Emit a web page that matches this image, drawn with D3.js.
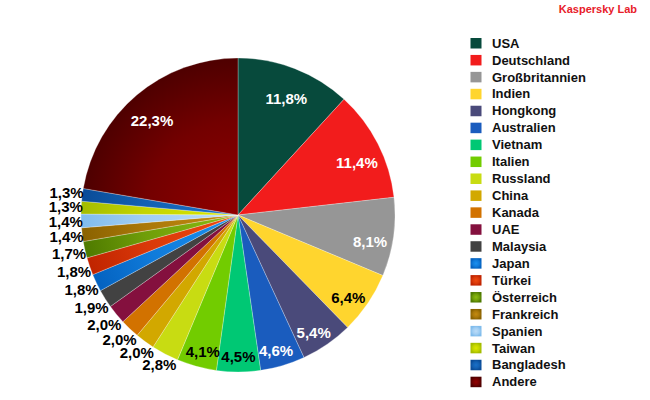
<!DOCTYPE html>
<html>
<head>
<meta charset="utf-8">
<script src="https://cdn.jsdelivr.net/npm/d3@7"></script>
<style>
  body { margin: 0; background: #fff; }
  text { font-family: "Liberation Sans", Arial, sans-serif; font-weight: bold; }
</style>
</head>
<body>
<script>
const countries = ["USA", "Deutschland", "Großbritannien", "Indien", "Hongkong", "Australien",
  "Vietnam", "Italien", "Russland", "China", "Kanada", "UAE", "Malaysia", "Japan", "Türkei",
  "Österreich", "Frankreich", "Spanien", "Taiwan", "Bangladesh", "Andere"];
const shares = [11.8, 11.4, 8.1, 6.4, 5.4, 4.6, 4.5, 4.1, 2.8, 2.0, 2.0, 2.0, 1.9, 1.8, 1.8,
  1.7, 1.4, 1.4, 1.3, 1.3, 22.3];
// inner colour; slices with an outer colour get a radial gradient
const innerColors = ["#074a3c", "#f21c1c", "#969696", "#ffd52e", "#4a4a7a", "#1a5cbe",
  "#00c874", "#72cc00", "#c8dc12", "#d2a800", "#d27200", "#84103e", "#424242", "#1a90f0",
  "#f04a10", "#8cbc10", "#c48a10", "#bcdcf8", "#dce800", "#1a70c8", "#920000"];
const outerColors = [null, null, null, null, null, null, null, null, null, null, null, null, null,
  "#0462c0", "#c02400", "#4e7a00", "#8a6200", "#80bcec", "#a4bc00", "#0a4c98", "#4e0000"];
const darkLabels = ["Indien", "Vietnam", "Italien"];

window.onload = function () {
  let width = 650, height = 400;
  let cx = 238, cy = 215, radius = 157;

  let svg = d3.select("body").append("svg")
    .attr("width", width).attr("height", height);
  let defs = svg.append("defs");

  const fmt = (v) => d3.format(".1f")(v).replace(".", ",") + "%";
  const fill = (i, prefix) => outerColors[i] ? `url(#${prefix}${i})` : innerColors[i];

  function addStops(g, i) {
    let mix = d3.interpolateRgb(innerColors[i], outerColors[i]);
    g.append("stop").attr("offset", "0%").attr("stop-color", innerColors[i]);
    g.append("stop").attr("offset", "60%").attr("stop-color", mix(0.45));
    g.append("stop").attr("offset", "100%").attr("stop-color", outerColors[i]);
  }

  // gradients: pie ones centred on the pie (its group is translated), legend ones on the swatch
  countries.forEach((c, i) => {
    if (!outerColors[i]) return;
    let g = defs.append("radialGradient").attr("id", "pg" + i)
      .attr("gradientUnits", "userSpaceOnUse")
      .attr("cx", 0).attr("cy", 0).attr("r", radius);
    addStops(g, i);
    let l = defs.append("radialGradient").attr("id", "lg" + i);
    addStops(l, i);
  });

  let pie = d3.pie().sort(null).value((d) => d);
  let arcs = pie(shares);
  let arc = d3.arc().innerRadius(0).outerRadius(radius);

  let chart = svg.append("g").attr("transform", `translate(${cx},${cy})`);
  chart.selectAll("path")
    .data(arcs)
    .join("path")
    .attr("d", arc)
    .attr("fill", (d, i) => fill(i, "pg"))
    .attr("stroke", "#fff")
    .attr("stroke-opacity", 0.45)
    .attr("stroke-width", 0.6);

  // labels
  let labels = chart.append("g").selectAll("text")
    .data(arcs)
    .join("text")
    .attr("text-anchor", "middle")
    .attr("dy", "0.36em")
    .attr("font-size", 15)
    .attr("fill", (d, i) => {
      if (d.data < 4) return "#000";
      return darkLabels.includes(countries[i]) ? "#000" : "#fff";
    })
    .text((d) => fmt(d.data));

  labels.each(function (d) {
    let a = (d.startAngle + d.endAngle) / 2;
    let sx = Math.sin(a), sy = -Math.cos(a);
    let x, y;
    if (d.data >= 4) {
      let r = radius * 0.85;
      x = r * sx;
      y = r * sy + 8;
    } else {
      let w = this.getComputedTextLength();
      let h = 14;
      let ext = Math.abs(sx) * w / 2 + Math.abs(sy) * h / 2 - 2;
      x = (radius + ext) * sx;
      y = (radius + ext) * sy;
    }
    d3.select(this).attr("x", x).attr("y", y);
  });

  // legend
  let yLegend = d3.scalePoint().domain(countries).range([43, 381.7]);
  let legend = svg.append("g").selectAll("g")
    .data(countries)
    .join("g")
    .attr("transform", (d) => `translate(470.5,${yLegend(d)})`);
  legend.append("rect")
    .attr("x", 0).attr("y", -5)
    .attr("width", 11).attr("height", 10.5)
    .attr("fill", (d, i) => fill(i, "lg"));
  legend.append("text")
    .attr("x", 21.5).attr("dy", "0.36em")
    .attr("font-size", 13)
    .attr("fill", "#111")
    .text((d) => d);

  svg.append("text")
    .attr("x", 637).attr("y", 13)
    .attr("text-anchor", "end")
    .attr("font-size", 11)
    .attr("fill", "#e8202a")
    .text("Kaspersky Lab");
};
</script>
</body>
</html>
